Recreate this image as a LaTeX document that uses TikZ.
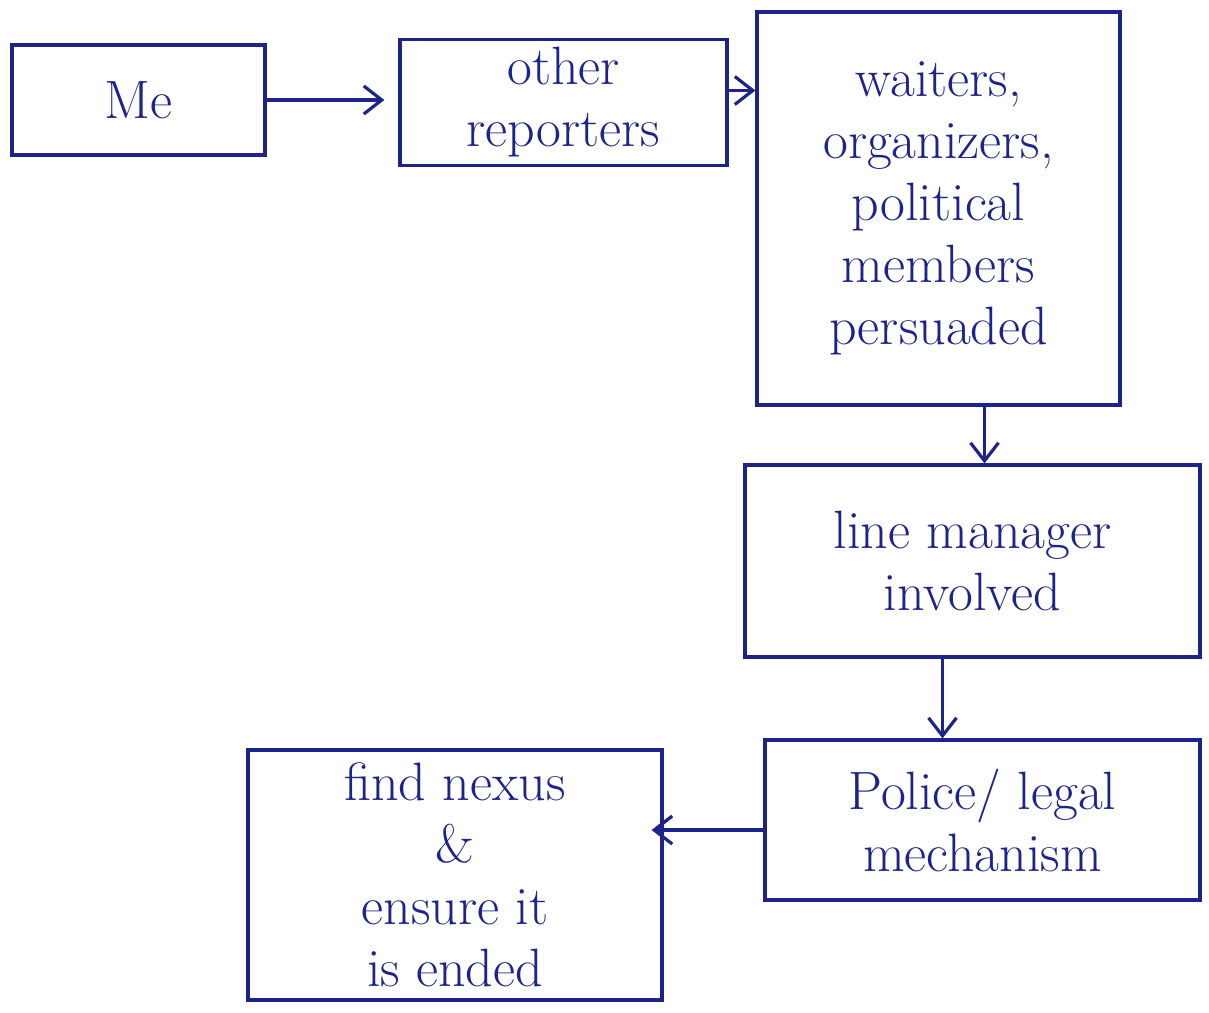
\documentclass[tikz,border=0pt]{standalone}
\usetikzlibrary{arrows.meta}

\definecolor{ink}{RGB}{28,36,140}

\tikzset{
  box/.style={draw=ink, line width=1.6pt, text=ink, align=center, inner sep=4pt,
              font=\fontsize{27}{31}\selectfont},
  flow/.style={draw=ink, line width=1.6pt, -{Straight Barb[length=9pt,width=14pt]}},
}

\begin{document}
\begin{tikzpicture}[x=0.5pt, y=-0.5pt]

\useasboundingbox (0,0) rectangle (1209,1012);

%% top row
\node[box, minimum width=126.5pt, minimum height=55pt] (me) at (138.5,100) {Me};
\node[box, minimum width=163.5pt, minimum height=62.5pt] (other) at (563.5,102.5) {other\\reporters};
\node[box, minimum width=181.5pt, minimum height=196.5pt] (waiters) at (938.5,208.5)
  {waiters,\\organizers,\\political\\members\\persuaded};

%% right column
\node[box, minimum width=227.5pt, minimum height=96pt] (line) at (972.5,561) {line manager\\involved};
\node[box, minimum width=217.5pt, minimum height=80pt] (police) at (982.5,820) {Police/ legal\\mechanism};

%% bottom left
\node[box, minimum width=207pt, minimum height=125pt] (nexus) at (455,875)
  {find nexus\\\&\\ensure it\\is ended};

%%

\draw[flow, shorten >=7pt] (me.east) -- (other.west |- me.east);
\draw[flow] ([yshift=6pt]other.east) -- ([yshift=6pt]other.east -| waiters.west);
\draw[flow] ([xshift=23pt]waiters.south) -- ([xshift=23pt]waiters.south |- line.north);
\draw[flow] ([xshift=-15pt]line.south) -- ([xshift=-15pt]line.south |- police.north);
\draw[flow, shorten >=-6pt] ([yshift=-5pt]police.west) -- ([yshift=-5pt]police.west -| nexus.east);

\end{tikzpicture}
\end{document}
